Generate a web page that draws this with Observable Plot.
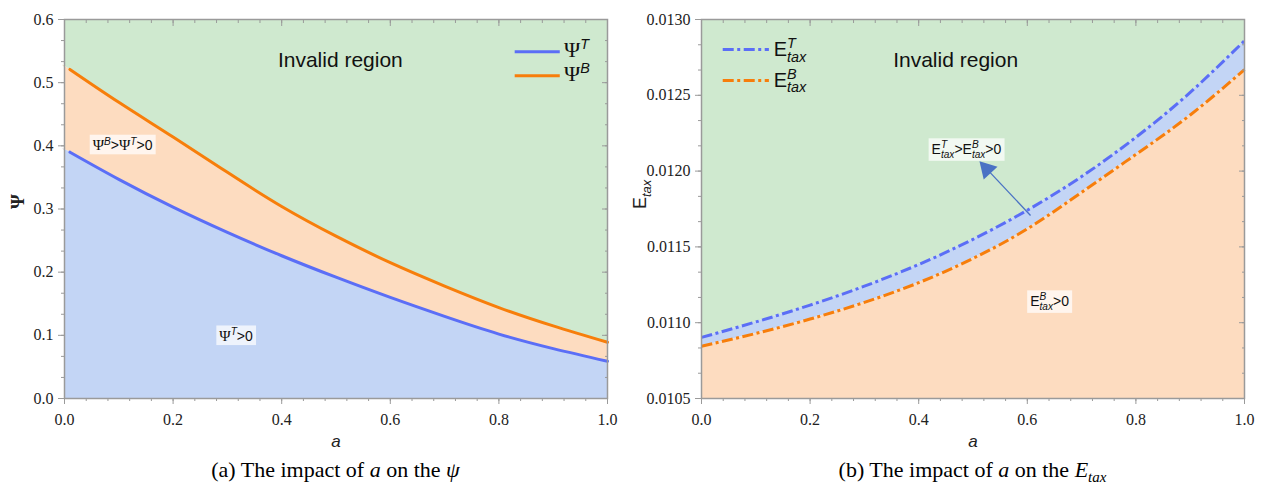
<!DOCTYPE html>
<html><head><meta charset="utf-8">
<script src="https://cdn.jsdelivr.net/npm/d3@7"></script>
<script src="https://cdn.jsdelivr.net/npm/@observablehq/plot@0.6"></script>
<style>
body{margin:0;background:#fff;}
#wrap{display:flex;width:1261px;}
.panel{flex:none;}
.panel svg{display:block;}
.panel svg text.tickserif{font-family:"Liberation Serif",serif !important;}
.cap{font-family:"Liberation Serif",serif;font-size:22px;line-height:24px;text-align:center;padding-top:3px;color:#000;white-space:nowrap;}
.cap sub{font-size:15px;vertical-align:-5px;line-height:0;}
</style></head><body><div id="wrap"></div>
<script>
// ---- data: panel (a) ----
const aPsi = [0, 0.01, 0.1, 0.2, 0.3, 0.4, 0.5, 0.6, 0.7, 0.8, 0.9, 1.0];
const psiT = [0.393, 0.390, 0.347, 0.303, 0.263, 0.226, 0.192, 0.160, 0.130, 0.102, 0.079, 0.059];
const psiB = [0.525, 0.521, 0.469, 0.414, 0.358, 0.304, 0.257, 0.215, 0.178, 0.144, 0.115, 0.089];
// ---- data: panel (b) ----
const aE = [0, 0.1, 0.2, 0.3, 0.4, 0.5, 0.6, 0.7, 0.8, 0.9, 1.0];
const eT = [0.010903, 0.011005, 0.011116, 0.011241, 0.011384, 0.01155, 0.011742, 0.011964, 0.012223, 0.012519, 0.01286];
const eB = [0.010845, 0.010929, 0.011024, 0.011134, 0.011264, 0.011424, 0.011619, 0.011860, 0.012110, 0.012370, 0.012670];
// ---- ticks ----
const xMajor = [0, 0.2, 0.4, 0.6, 0.8, 1.0];
const yMajorPsi = [0, 0.1, 0.2, 0.3, 0.4, 0.5, 0.6];
const yMajorE = [0.0105, 0.0110, 0.0115, 0.0120, 0.0125, 0.0130];
const xMinor = d3.range(0, 1.0001, 0.04);
const yMinorPsi = d3.range(0, 0.6001, 0.1/3);
const yMinorE = d3.range(0.0105, 0.013001, 0.0005/3);
// ---- labels ----
const legendPsi = ["Ψ^{T}", "Ψ^{B}"];
const legendE = ["E^{T}_{tax}", "E^{B}_{tax}"];

const GREEN = "#cfe9cf", BLUE_F = "#c3d5f5", ORANGE_F = "#fddcc0";
const BLUE = "#5b6ef6", ORANGE = "#f77e0b", FRAME = "#9a9a9a";
const curve = "natural";
const DASH = "11,3.5,3,3.5";

const psiRows = aPsi.map((a, i) => ({a, T: psiT[i], B: psiB[i]}));
const eRows = aE.map((a, i) => ({a, T: eT[i], B: eB[i]}));

const TF = {fontFamily: "Liberation Serif", fontSize: 16, fill: "#222"};
function axes(yMajor, yMinor, yFmt, yPad) {
  return [
    Plot.axisX({ticks: xMinor, tickSize: 3, text: null, label: null, stroke: FRAME}),
    Plot.axisX({ticks: xMajor, tickSize: 6, tickPadding: 9, tickFormat: d3.format(".1f"), label: null, stroke: FRAME, ...TF}),
    Plot.axisX({anchor: "top", ticks: xMinor, tickSize: -3, text: null, label: null, stroke: FRAME}),
    Plot.axisX({anchor: "top", ticks: xMajor, tickSize: -6, text: null, label: null, stroke: FRAME}),
    Plot.axisY({ticks: yMinor, tickSize: 3, text: null, label: null, stroke: FRAME}),
    Plot.axisY({ticks: yMajor, tickSize: 6, tickPadding: yPad, tickFormat: d3.format(yFmt), label: null, stroke: FRAME, ...TF}),
    Plot.axisY({anchor: "right", ticks: yMinor, tickSize: -3, text: null, label: null, stroke: FRAME}),
    Plot.axisY({anchor: "right", ticks: yMajor, tickSize: -6, text: null, label: null, stroke: FRAME}),
    Plot.frame({stroke: FRAME, strokeWidth: 1.5})
  ];
}

const style = "font-family:'Liberation Serif',serif;font-size:16px;color:#222;background:transparent;overflow:visible;";

const plotA = Plot.plot({
  width: 630, height: 455, marginLeft: 64, marginRight: 23, marginTop: 19, marginBottom: 57,
  x: {domain: [0, 1]}, y: {domain: [0, 0.6]}, style,
  marks: [
    Plot.areaY(psiRows, {x: "a", y1: "B", y2: 0.6, fill: GREEN, curve}),
    Plot.areaY(psiRows, {x: "a", y1: "T", y2: "B", fill: ORANGE_F, curve}),
    Plot.areaY(psiRows, {x: "a", y1: 0, y2: "T", fill: BLUE_F, curve}),
    Plot.line(psiRows.filter(d => d.a >= 0.01), {x: "a", y: "T", stroke: BLUE, strokeWidth: 3, curve}),
    Plot.line(psiRows.filter(d => d.a >= 0.01), {x: "a", y: "B", stroke: ORANGE, strokeWidth: 3, curve}),
    ...axes(yMajorPsi, yMinorPsi, ".1f", 5),
    Plot.ruleY([{y: 0.549, c: BLUE}, {y: 0.511, c: ORANGE}], {x1: 0.83, x2: 0.913, y: "y", stroke: "c", strokeWidth: 3}),
    Plot.text(legendPsi, {x: 0.92, y: [0.550, 0.513], text: d => d, textAnchor: "start", fontSize: 20, fontFamily: "Liberation Serif", fill: "#111"}),
    Plot.text(["Invalid region"], {x: 0.508, y: 0.535, fontSize: 21, fontFamily: "Liberation Sans", fill: "#111"}),
    Plot.text(["§Ψ^{B}>Ψ^{T}>0"], {x: 0.107, y: 0.400, fontSize: 14, fontFamily: "Liberation Sans", fill: "#111"}),
    Plot.text(["§Ψ^{T}>0"], {x: 0.316, y: 0.098, fontSize: 14, fontFamily: "Liberation Sans", fill: "#111"}),
    Plot.text(["Ψ"], {frameAnchor: "left", dx: -47, rotate: -90, fontSize: 19, fontFamily: "Liberation Serif", fontWeight: "bold", fill: "#222"}),
    Plot.text(["a"], {frameAnchor: "bottom", dy: 48, fontSize: 17, fontStyle: "italic", fontFamily: "Liberation Sans", fill: "#222"})
  ]
});

const plotB = Plot.plot({
  width: 631, height: 455, marginLeft: 71, marginRight: 17, marginTop: 19, marginBottom: 57,
  x: {domain: [0, 1]}, y: {domain: [0.0105, 0.0130]}, style,
  marks: [
    Plot.areaY(eRows, {x: "a", y1: "T", y2: 0.0130, fill: GREEN, curve}),
    Plot.areaY(eRows, {x: "a", y1: "B", y2: "T", fill: BLUE_F, curve}),
    Plot.areaY(eRows, {x: "a", y1: 0.0105, y2: "B", fill: ORANGE_F, curve}),
    Plot.line(eRows, {x: "a", y: "T", stroke: BLUE, strokeWidth: 3, strokeDasharray: DASH, strokeLinecap: "butt", curve}),
    Plot.line(eRows, {x: "a", y: "B", stroke: ORANGE, strokeWidth: 3, strokeDasharray: DASH, strokeLinecap: "butt", curve}),
    ...axes(yMajorE, yMinorE, ".4f", 5),
    Plot.ruleY([{y: 0.012802, c: BLUE}, {y: 0.012598, c: ORANGE}], {x1: 0.04, x2: 0.125, y: "y", stroke: "c", strokeWidth: 3, strokeDasharray: DASH, strokeLinecap: "butt"}),
    Plot.text(legendE, {x: 0.133, y: [0.012802, 0.012598], text: d => d, textAnchor: "start", fontSize: 20, fontFamily: "Liberation Sans", fill: "#111"}),
    Plot.text(["Invalid region"], {x: 0.468, y: 0.012730, fontSize: 21, fontFamily: "Liberation Sans", fill: "#111"}),
    Plot.link([{x1: 0.606, y1: 0.011707, x2: 0.5256, y2: 0.012013}], {x1: "x1", y1: "y1", x2: "x2", y2: "y2", stroke: "#4a72c4", strokeWidth: 1.3}),
    Plot.dot([{x: 0.5256, y: 0.012013}], {x: "x", y: "y", symbol: "triangle", r: 7, fill: "#4a72c4", stroke: "none", rotate: -43}),
    Plot.text(["§E^{T}_{tax}>E^{B}_{tax}>0"], {x: 0.488, y: 0.012143, fontSize: 14, fontFamily: "Liberation Sans", fill: "#111"}),
    Plot.text(["§E^{B}_{tax}>0"], {x: 0.641, y: 0.011140, fontSize: 14, fontFamily: "Liberation Sans", fill: "#111"}),
    Plot.text(["E_{tax}"], {frameAnchor: "left", dx: -61, rotate: -90, fontSize: 18, fontFamily: "Liberation Sans", fill: "#222"}),
    Plot.text(["a"], {frameAnchor: "bottom", dy: 48, fontSize: 17, fontStyle: "italic", fontFamily: "Liberation Sans", fill: "#222"})
  ]
});

const wrap = document.getElementById("wrap");
function addPanel(svg, width, padLeft, capHTML) {
  const div = document.createElement("div");
  div.className = "panel";
  div.style.width = width + "px";
  div.appendChild(svg);
  const cap = document.createElement("div");
  cap.className = "cap";
  cap.style.paddingLeft = padLeft + "px";
  cap.innerHTML = capHTML;
  div.appendChild(cap);
  wrap.appendChild(div);
}
addPanel(plotA, 630, 41, "(a) The impact of <i>a</i> on the <i>ψ</i>");
addPanel(plotB, 631, 54, "(b) The impact of <i>a</i> on the <i>E</i><sub><i>tax</i></sub>");

// tick labels (numbers) in a Times-like serif
document.querySelectorAll("svg text").forEach(t => {
  if (/^[0-9.]+$/.test(t.textContent.trim())) {
    t.classList.add("tickserif");
    t.setAttribute("font-family", "Liberation Serif");
    t.style.setProperty("font-family", "'Liberation Serif', serif", "important");
  }
});

// ---- rich text: ^{sup}, _{sub}, § = background box ----
const NS = "http://www.w3.org/2000/svg";
function richify(el) {
  let s = el.textContent;
  let box = false;
  if (s.startsWith("§")) { box = true; s = s.slice(1); }
  if (!/[\^_]/.test(s) && !box) return;
  const re = /\^\{([^}]*)\}|_\{([^}]*)\}|([^\^_]+)/g;
  const tokens = []; let m;
  while ((m = re.exec(s))) tokens.push(m[1] != null ? {t: "sup", s: m[1]} : m[2] != null ? {t: "sub", s: m[2]} : {t: "n", s: m[3]});
  el.textContent = "";
  const fs = parseFloat(getComputedStyle(el).fontSize);
  let shift = 0, pendingDx = 0;
  const mk = (txt) => { const ts = document.createElementNS(NS, "tspan"); ts.textContent = txt; return ts; };
  const off = (t) => t === "sup" ? -0.40 * fs : 0.28 * fs;
  const styleSmall = (ts) => {
    ts.setAttribute("font-size", 0.72 * fs);
    ts.setAttribute("font-style", "italic");
    ts.setAttribute("font-family", "Liberation Sans");
  };
  for (let i = 0; i < tokens.length; i++) {
    const tk = tokens[i];
    if (tk.t === "n") {
      const parts = tk.s.split(/(Ψ)/).filter(p => p !== "");
      parts.forEach((p, j) => {
        const ts = mk(p);
        if (j === 0) {
          if (shift) ts.setAttribute("dy", -shift);
          if (pendingDx) ts.setAttribute("dx", pendingDx);
          shift = 0; pendingDx = 0;
        }
        if (p === "Ψ") { ts.setAttribute("font-family", "Liberation Serif"); ts.setAttribute("font-size", fs * 1.1); }
        el.appendChild(ts);
      });
    } else {
      const ts = mk(tk.s);
      let target = off(tk.t);
      ts.setAttribute("dy", target - shift); shift = target;
      if (pendingDx) { ts.setAttribute("dx", pendingDx); pendingDx = 0; }
      styleSmall(ts);
      el.appendChild(ts);
      const next = tokens[i + 1];
      if (next && next.t !== "n" && next.t !== tk.t) {
        const w1 = ts.getComputedTextLength();
        const ts2 = mk(next.s);
        target = off(next.t);
        ts2.setAttribute("dy", target - shift); shift = target;
        ts2.setAttribute("dx", -w1);
        styleSmall(ts2);
        el.appendChild(ts2);
        const w2 = ts2.getComputedTextLength();
        pendingDx = Math.max(0, w1 - w2);
        i++;
      }
    }
  }
  if (box) {
    const bb = el.getBBox();
    const r = document.createElementNS(NS, "rect");
    r.setAttribute("x", bb.x - 3); r.setAttribute("y", bb.y - 1);
    r.setAttribute("width", bb.width + 6); r.setAttribute("height", bb.height + 2);
    r.setAttribute("fill", "rgba(255,255,255,0.72)");
    r.setAttribute("stroke", "none");
    if (el.getAttribute("transform")) r.setAttribute("transform", el.getAttribute("transform"));
    el.parentNode.insertBefore(r, el);
  }
}
document.querySelectorAll("svg text").forEach(richify);
</script>
</body></html>
